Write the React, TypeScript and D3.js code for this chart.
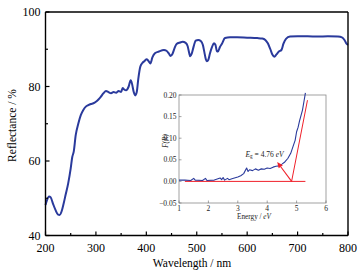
import React from "react";
import * as d3 from "d3";

// Main spectrum: wavelength (nm) vs reflectance (%)
const wavelength = [200,203,207,210,215,220,225,228,232,236,240,245,250,253,256,260,265,270,275,280,285,290,295,300,305,310,315,320,325,330,335,340,345,350,353,356,360,365,369,372,375,378,381,384,388,392,396,401,405,408,412,417,425,435,440,445,448,452,456,460,467,472,478,482,485,487,490,493,498,503,508,512,515,518,520,523,526,530,534,537,540,542,546,550,556,566,580,600,620,630,636,641,646,650,654,658,663,668,672,677,685,700,720,740,760,780,788,793,797,800];
const reflectance = [48.2,49.5,50.5,50.3,48.5,46.8,45.6,45.5,46.5,48.6,51,54,58,61,62.5,67,70,72.3,73.7,74.6,75,75.3,75.5,75.9,76.5,77.3,78.2,78.8,78.5,78.2,78.5,78.3,78.8,78.5,79.6,79.2,79.0,80,81.7,80.5,78.5,77.6,78.5,82,85.3,86.3,86.8,87.3,86.7,86.2,87.8,88.9,89.4,89.8,89.6,88.8,88.2,88.8,90.3,91.4,91.8,92,91.7,90.8,89,88.1,88.8,90.3,92.3,92.5,92.2,91.2,89.3,87.3,86.8,87.2,88.8,90.5,91.6,91.2,89.5,89.4,90.6,91.5,93.0,93.2,93.2,93.1,93.0,92.9,92.5,91.6,90,88.6,88,88.6,89.4,89.8,91.5,92.8,93.4,93.5,93.5,93.4,93.5,93.4,93.2,92.5,91.5,91.2];

// Inset: photon energy (eV) vs F(R)
const energy = [1.0,1.2,1.4,1.5,1.55,1.8,1.9,1.95,2.2,2.4,2.45,2.5,2.55,2.65,2.7,2.8,3.0,3.1,3.2,3.3,3.35,3.4,3.5,3.6,3.7,3.8,3.9,4.0,4.1,4.2,4.3,4.4,4.5,4.6,4.7,4.8,4.9,4.95,5.0,5.05,5.1,5.2,5.25,5.3];
const fr = [0.003,0.003,0.002,0.007,0.003,0.002,0.007,0.002,0.003,0.008,0.004,0.009,0.003,0.007,0.004,0.006,0.010,0.013,0.018,0.031,0.023,0.027,0.025,0.029,0.026,0.029,0.028,0.031,0.030,0.033,0.035,0.036,0.040,0.045,0.053,0.065,0.085,0.095,0.115,0.125,0.140,0.165,0.185,0.205];

const tangentE = [4.83, 5.37];
const tangentF = [0, 0.188];
const baselineE = [1.2, 5.3];
const arrowE = [4.83, 4.34];
const arrowF = [0, 0.045];

const xTicks = [200, 300, 400, 500, 600, 700, 800];
const yTicks = [40, 60, 80, 100];
const insetXTicks = [1, 2, 3, 4, 5, 6];
const insetYTicks = [-0.05, 0, 0.05, 0.1, 0.15, 0.2];

const FONT = "Liberation Serif";
const BLUE = "#2a3a9c";
const RED = "#f0202a";

export default function App() {
  const W = 362, H = 276;
  const m = { l: 45.5, r: 348, t: 12, b: 235.5 };
  const x = d3.scaleLinear().domain([200, 800]).range([m.l, m.r]);
  const y = d3.scaleLinear().domain([40, 100]).range([m.b, m.t]);
  const line = d3.line<number>().x((_, i) => x(wavelength[i])).y((d) => y(d)).curve(d3.curveMonotoneX);

  const ix = d3.scaleLinear().domain([1, 6]).range([179, 326]);
  const iy = d3.scaleLinear().domain([-0.05, 0.2]).range([203, 95]);
  const iline = d3.line<number>().x((_, i) => ix(energy[i])).y((d) => iy(d)).curve(d3.curveLinear);

  const minorX = d3.range(250, 800, 100);
  const minorY = d3.range(50, 100, 20);

  // arrow geometry
  const ax0 = ix(arrowE[0]), ay0 = iy(arrowF[0]);
  const ax1 = ix(arrowE[1]), ay1 = iy(arrowF[1]);
  const ang = Math.atan2(ay1 - ay0, ax1 - ax0);
  const hl = 6, hw = 2.6;
  const bx = ax1 - hl * Math.cos(ang), by = ay1 - hl * Math.sin(ang);
  const head = `M${ax1},${ay1} L${bx + hw * Math.sin(ang)},${by - hw * Math.cos(ang)} L${bx - hw * Math.sin(ang)},${by + hw * Math.cos(ang)} Z`;

  return (
    <svg width={W} height={H} style={{ position: "absolute", left: 0, top: 0, background: "#fff" }}>
      <g fontFamily={FONT}>
      {/* main curve */}
      <path d={line(reflectance) || ""} fill="none" stroke={BLUE} strokeWidth={2} strokeLinejoin="round" />

      {/* main frame */}
      <line x1={m.l} x2={m.r} y1={m.t} y2={m.t} stroke="#000" strokeWidth={1.4} />
      <line x1={m.l} x2={m.r} y1={m.b} y2={m.b} stroke="#000" strokeWidth={1.4} />
      <line x1={m.l} x2={m.l} y1={m.t} y2={m.b} stroke="#000" strokeWidth={1.4} />
      <line x1={m.r} x2={m.r} y1={m.t} y2={m.b} stroke="#000" strokeWidth={1.4} />

      {xTicks.map((t) => (
        <g key={"xt" + t}>
          <line x1={x(t)} x2={x(t)} y1={m.b} y2={m.b - 4} stroke="#000" strokeWidth={1.2} />
          <text x={x(t)} y={251.5} fontSize={12} textAnchor="middle">{t}</text>
        </g>
      ))}
      {minorX.map((t) => (
        <line key={"xm" + t} x1={x(t)} x2={x(t)} y1={m.b} y2={m.b - 2.5} stroke="#000" strokeWidth={1.2} />
      ))}
      {yTicks.map((t) => (
        <g key={"yt" + t}>
          <line x1={m.l} x2={m.l + 4} y1={y(t)} y2={y(t)} stroke="#000" strokeWidth={1.2} />
          <text x={40.5} y={y(t) + 4} fontSize={12} textAnchor="end">{t}</text>
        </g>
      ))}
      {minorY.map((t) => (
        <line key={"ym" + t} x1={m.l} x2={m.l + 2.5} y1={y(t)} y2={y(t)} stroke="#000" strokeWidth={1.2} />
      ))}
      <text x={192} y={266.5} fontSize={11.5} textAnchor="middle">Wavelength / nm</text>
      <text transform="translate(16,125.5) rotate(-90)" fontSize={11.5} textAnchor="middle">Reflectance / %</text>

      {/* inset */}
      <rect x={179} y={95} width={147} height={108} fill="#fff" stroke="#8a8a8a" strokeWidth={0.8} />
      {insetYTicks.map((t) => (
        <g key={"iy" + t}>
          <line x1={179} x2={181.5} y1={iy(t)} y2={iy(t)} stroke="#666" strokeWidth={0.6} />
          <text x={176.5} y={iy(t) + 2.5} fontSize={7.5} textAnchor="end" fill="#222">
            {t < 0 ? "\u2212" + Math.abs(t).toFixed(2) : t.toFixed(2)}
          </text>
        </g>
      ))}
      {insetXTicks.map((t) => (
        <g key={"ix" + t}>
          <line x1={ix(t)} x2={ix(t)} y1={203} y2={200.5} stroke="#666" strokeWidth={0.6} />
          <text x={ix(t)} y={210.8} fontSize={7.5} textAnchor="middle" fill="#222">{t}</text>
        </g>
      ))}
      <text x={254} y={218.8} fontSize={7.2} textAnchor="middle" fill="#222">
        Energy / <tspan fontStyle="italic">eV</tspan>
      </text>
      <text transform="translate(168,141) rotate(-90)" fontSize={7.2} textAnchor="middle" fill="#222" fontStyle="italic">F(R)</text>

      <path d={iline(fr) || ""} fill="none" stroke={BLUE} strokeWidth={1.1} strokeLinejoin="round" />
      <line x1={ix(baselineE[0])} x2={ix(baselineE[1])} y1={iy(0)} y2={iy(0)} stroke={RED} strokeWidth={1} />
      <line x1={ix(tangentE[0])} x2={ix(tangentE[1])} y1={iy(tangentF[0])} y2={iy(tangentF[1])} stroke={RED} strokeWidth={1} />
      <line x1={ax0} y1={ay0} x2={bx} y2={by} stroke={RED} strokeWidth={1.1} />
      <path d={head} fill={RED} />
      <text x={245.5} y={156.5} fontSize={7.5} fill="#222">
        <tspan fontStyle="italic">E</tspan>
        <tspan fontSize={5.2} dy={1.8}>g</tspan>
        <tspan dy={-1.8}> = 4.76 </tspan>
        <tspan fontStyle="italic">eV</tspan>
      </text>
      </g>
    </svg>
  );
}
